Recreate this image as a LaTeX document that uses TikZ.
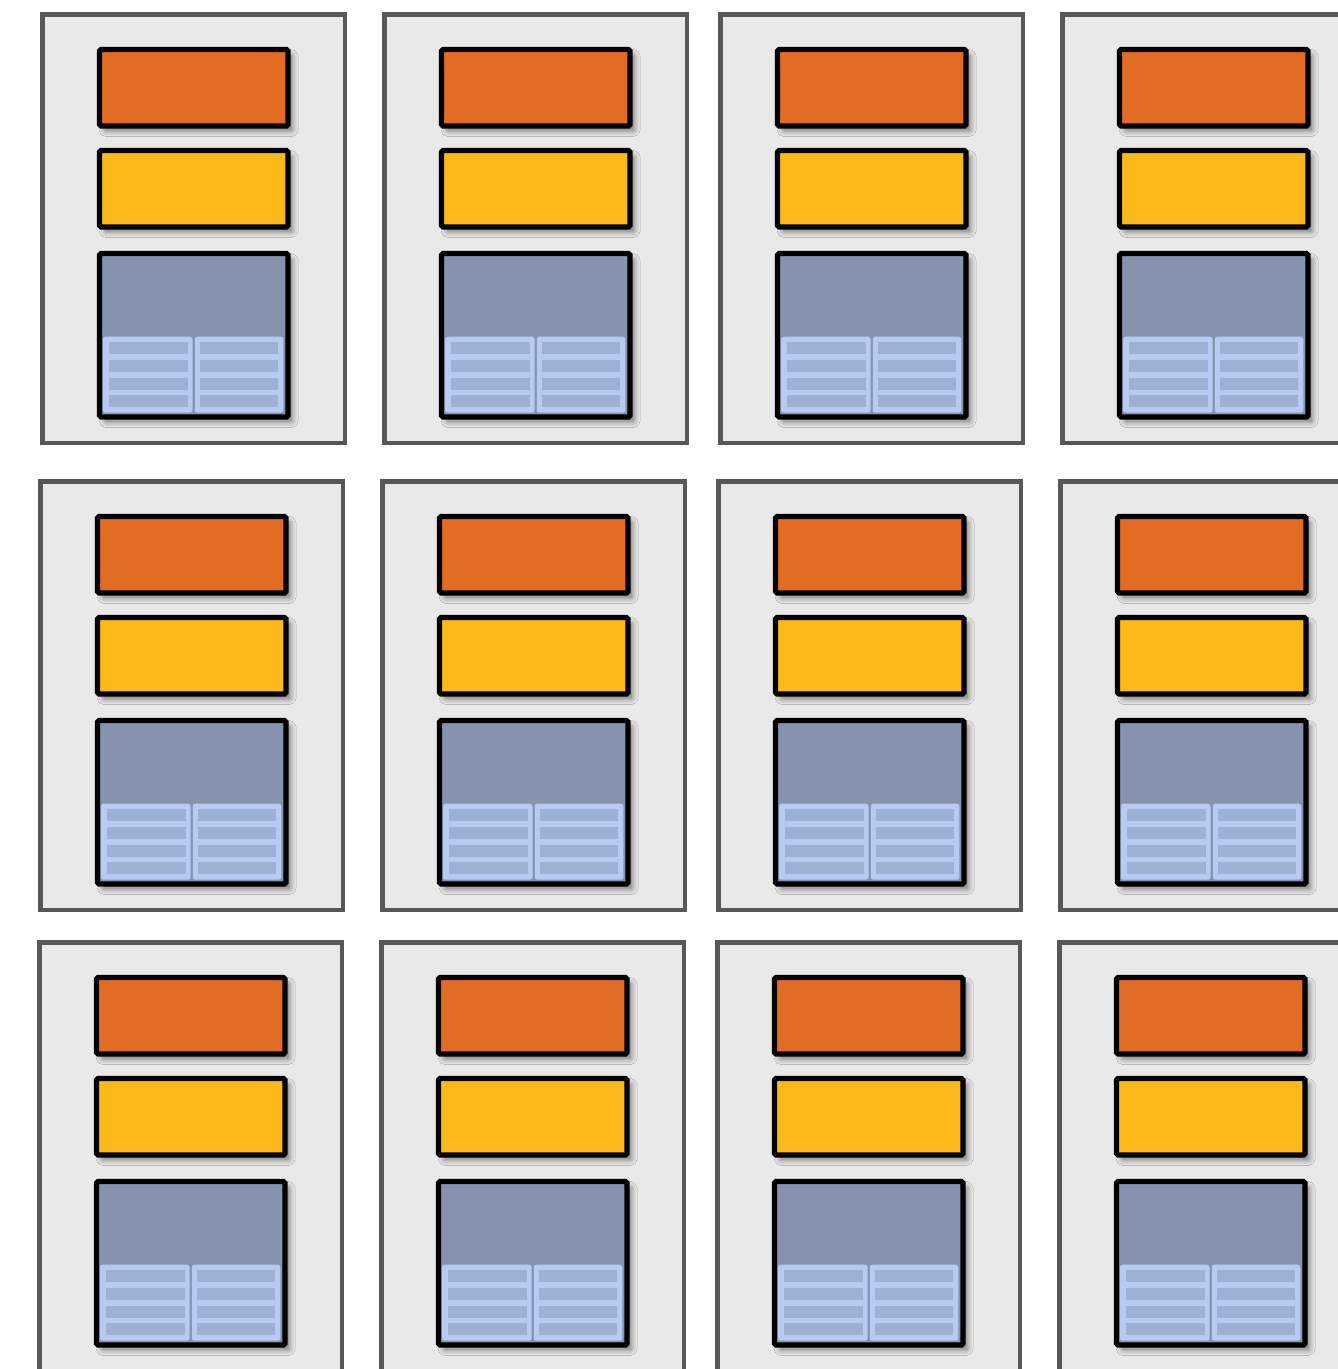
\documentclass[tikz,border=0pt]{standalone}
\usetikzlibrary{shadows.blur}
\definecolor{panelgray}{HTML}{E9E9E9}
\definecolor{paneledge}{HTML}{575757}
\definecolor{cacheorange}{HTML}{E36C24}
\definecolor{cacheyellow}{HTML}{FDB91A}
\definecolor{memblue}{HTML}{8593AF}
\definecolor{banklight}{HTML}{B8CAF2}
\definecolor{bankstripe}{HTML}{9EB0D4}

\tikzset{
  panel/.style={draw=paneledge,fill=panelgray,line width=2.7pt},
  unit/.style={draw=black,line width=2.9pt,rounded corners=0.8pt,
    blur shadow={shadow xshift=2.8pt,shadow yshift=-3pt,shadow blur radius=3pt,shadow opacity=45}},
  bank/.style={fill=banklight,rounded corners=1.4pt},
  stripe/.style={fill=bankstripe},
}

\begin{document}
\begin{tikzpicture}[x=0.02cm,y=-0.02cm,line cap=round]
\useasboundingbox (0,0) rectangle (1338,1369);
\clip (0,0) rectangle (1338,1369);
\foreach \py/\dx in {12/0,479/-2,940/-3}{
  \foreach \cx in {40,382,718,1060}{
    \pgfmathsetmacro{\px}{\cx+\dx}
    % node panel
    \draw[panel] (\px+2.2,\py+2.2) rectangle (\px+305,\py+431);
    % caches and memory
    \draw[unit,fill=cacheorange] (\px+59.5,\py+37.5) rectangle (\px+248,\py+114);
    \draw[unit,fill=cacheyellow] (\px+59.5,\py+138.5) rectangle (\px+248,\py+215);
    \draw[unit,fill=memblue] (\px+59.5,\py+241.5) rectangle (\px+248,\py+405);
    % two banks
    \fill[bank] (\px+63,\py+324.7) rectangle (\px+152.5,\py+400.7);
    \fill[bank] (\px+154.8,\py+324.7) rectangle (\px+243.3,\py+400.7);
    \foreach \k in {0,...,3}{
      \fill[stripe] (\px+69,\py+330+17.8*\k) rectangle ++(78.5,12);
      \fill[stripe] (\px+160,\py+330+17.8*\k) rectangle ++(78.3,12);
    }
  }
}
\end{tikzpicture}
\end{document}
